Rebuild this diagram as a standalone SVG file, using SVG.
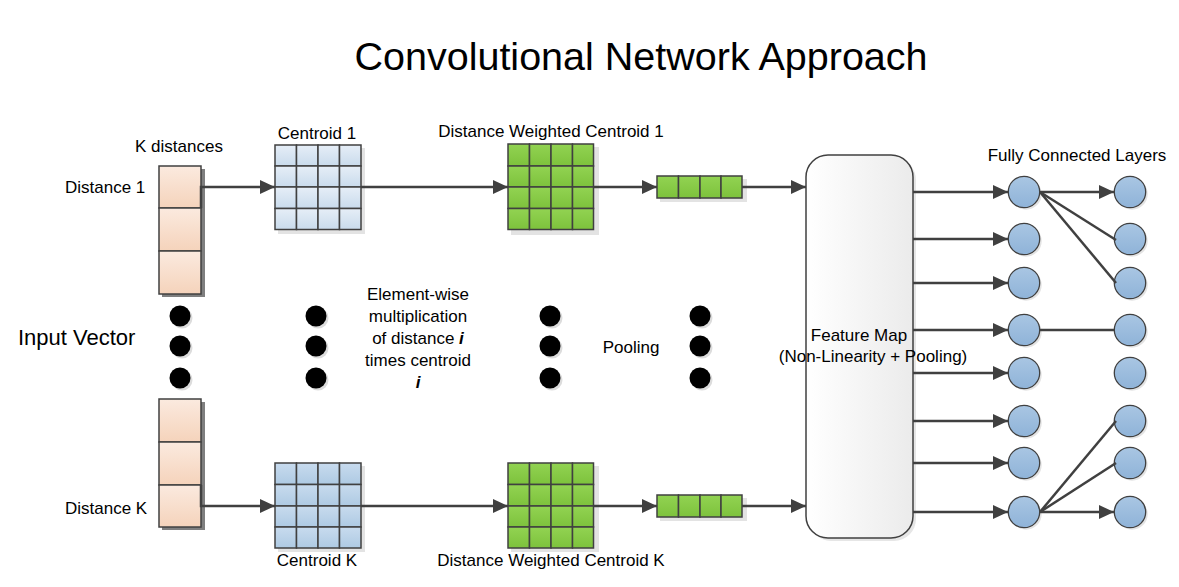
<svg xmlns="http://www.w3.org/2000/svg" width="1179" height="587" viewBox="0 0 1179 587">
<style>
text{font-family:"Liberation Sans",Arial,sans-serif;fill:#000}
.lbl{font-size:17px}
.cell{stroke:#404040;stroke-width:1.5}
.peach{fill:url(#gPeach)}
.blue1{fill:url(#gBlue1)}
.blue2{fill:url(#gBlue2)}
.green{fill:url(#gGreen)}
.shadow{fill:#e3e3e3}
.dshadow{fill:#7f7f7f}
.conn{fill:none;stroke:#404040;stroke-width:2.5}
.arr{marker-end:url(#ah)}
.dot{fill:#000}
.neuron{fill:url(#gNeuron);stroke:#404040;stroke-width:1.3}
</style>
<defs>
<linearGradient id="gPeach" x1="0" y1="0" x2="0" y2="1"><stop offset="0" stop-color="#fbeadf"/><stop offset="1" stop-color="#f5d3bb"/></linearGradient>
<linearGradient id="gBlue1" x1="0" y1="0" x2="0" y2="1"><stop offset="0" stop-color="#e6eef7"/><stop offset="1" stop-color="#c9dbec"/></linearGradient>
<linearGradient id="gBlue2" x1="0" y1="0" x2="0" y2="1"><stop offset="0" stop-color="#c8dbee"/><stop offset="1" stop-color="#aecae3"/></linearGradient>
<linearGradient id="gGreen" x1="0" y1="0" x2="0" y2="1"><stop offset="0" stop-color="#92d352"/><stop offset="1" stop-color="#7dc23c"/></linearGradient>
<linearGradient id="gFM" x1="0" y1="0" x2="1" y2="0"><stop offset="0" stop-color="#ffffff"/><stop offset="1" stop-color="#ebebeb"/></linearGradient>
<linearGradient id="gNeuron" x1="0" y1="0" x2="0" y2="1"><stop offset="0" stop-color="#a9c6e3"/><stop offset="1" stop-color="#8fb3d8"/></linearGradient>
<marker id="ah" markerUnits="userSpaceOnUse" markerWidth="16" markerHeight="14" refX="15" refY="7" orient="auto"><path d="M0,0 L15,7 L0,14 Z" fill="#404040"/></marker>
</defs>
<rect width="1179" height="587" fill="#fff"/>

<text x="641" y="70" text-anchor="middle" style="font-size:39.5px">Convolutional Network Approach</text>

<g id="labels" class="lbl">
<text x="179" y="152" text-anchor="middle">K distances</text>
<text x="65" y="193">Distance 1</text>
<text x="65" y="514">Distance K</text>
<text x="18" y="345" style="font-size:22px">Input Vector</text>
<text x="317" y="139" text-anchor="middle">Centroid 1</text>
<text x="317" y="566" text-anchor="middle">Centroid K</text>
<text x="551" y="137" text-anchor="middle">Distance Weighted Centroid 1</text>
<text x="551" y="566" text-anchor="middle">Distance Weighted Centroid K</text>
<text x="1077" y="161" text-anchor="middle">Fully Connected Layers</text>
<text x="631" y="353" text-anchor="middle">Pooling</text>
<text x="418" y="300" text-anchor="middle">Element-wise</text>
<text x="418" y="322" text-anchor="middle">multiplication</text>
<text x="418" y="344" text-anchor="middle">of distance <tspan font-weight="bold" font-style="italic">i</tspan></text>
<text x="418" y="366" text-anchor="middle">times centroid</text>
<text x="418" y="388" text-anchor="middle" font-weight="bold" font-style="italic">i</text>
</g>

<g id="input-top">
<rect class="dshadow" x="162" y="169" width="43" height="128"/>
<rect class="cell peach" x="159" y="166" width="42" height="42"/>
<rect class="cell peach" x="159" y="208" width="42" height="43"/>
<rect class="cell peach" x="159" y="251" width="42" height="43"/>
</g>
<g id="input-bottom">
<rect class="dshadow" x="162" y="402" width="43" height="128"/>
<rect class="cell peach" x="159" y="399" width="42" height="43"/>
<rect class="cell peach" x="159" y="442" width="42" height="43"/>
<rect class="cell peach" x="159" y="485" width="42" height="42"/>
</g>

<g id="centroid-1">
<rect class="shadow" x="278" y="148" width="87" height="86"/>
<rect class="cell blue1" x="275" y="145" width="21.5" height="21"/><rect class="cell blue1" x="296.5" y="145" width="21.5" height="21"/><rect class="cell blue1" x="318" y="145" width="21.5" height="21"/><rect class="cell blue1" x="339.5" y="145" width="21.5" height="21"/>
<rect class="cell blue1" x="275" y="166" width="21.5" height="21"/><rect class="cell blue1" x="296.5" y="166" width="21.5" height="21"/><rect class="cell blue1" x="318" y="166" width="21.5" height="21"/><rect class="cell blue1" x="339.5" y="166" width="21.5" height="21"/>
<rect class="cell blue1" x="275" y="187" width="21.5" height="21.5"/><rect class="cell blue1" x="296.5" y="187" width="21.5" height="21.5"/><rect class="cell blue1" x="318" y="187" width="21.5" height="21.5"/><rect class="cell blue1" x="339.5" y="187" width="21.5" height="21.5"/>
<rect class="cell blue1" x="275" y="208.5" width="21.5" height="21"/><rect class="cell blue1" x="296.5" y="208.5" width="21.5" height="21"/><rect class="cell blue1" x="318" y="208.5" width="21.5" height="21"/><rect class="cell blue1" x="339.5" y="208.5" width="21.5" height="21"/>
</g>
<g id="centroid-k">
<rect class="shadow" x="278" y="466" width="87" height="86"/>
<rect class="cell blue2" x="275" y="463" width="21.5" height="21.5"/><rect class="cell blue2" x="296.5" y="463" width="21.5" height="21.5"/><rect class="cell blue2" x="318" y="463" width="21.5" height="21.5"/><rect class="cell blue2" x="339.5" y="463" width="21.5" height="21.5"/>
<rect class="cell blue2" x="275" y="484.5" width="21.5" height="21.5"/><rect class="cell blue2" x="296.5" y="484.5" width="21.5" height="21.5"/><rect class="cell blue2" x="318" y="484.5" width="21.5" height="21.5"/><rect class="cell blue2" x="339.5" y="484.5" width="21.5" height="21.5"/>
<rect class="cell blue2" x="275" y="506" width="21.5" height="21"/><rect class="cell blue2" x="296.5" y="506" width="21.5" height="21"/><rect class="cell blue2" x="318" y="506" width="21.5" height="21"/><rect class="cell blue2" x="339.5" y="506" width="21.5" height="21"/>
<rect class="cell blue2" x="275" y="527" width="21.5" height="21"/><rect class="cell blue2" x="296.5" y="527" width="21.5" height="21"/><rect class="cell blue2" x="318" y="527" width="21.5" height="21"/><rect class="cell blue2" x="339.5" y="527" width="21.5" height="21"/>
</g>

<g id="weighted-1">
<rect class="shadow" x="511" y="147" width="88" height="88"/>
<rect class="cell green" x="508" y="144" width="21.5" height="22"/><rect class="cell green" x="529.5" y="144" width="21.5" height="22"/><rect class="cell green" x="551" y="144" width="21.5" height="22"/><rect class="cell green" x="572.5" y="144" width="21" height="22"/>
<rect class="cell green" x="508" y="166" width="21.5" height="21"/><rect class="cell green" x="529.5" y="166" width="21.5" height="21"/><rect class="cell green" x="551" y="166" width="21.5" height="21"/><rect class="cell green" x="572.5" y="166" width="21" height="21"/>
<rect class="cell green" x="508" y="187" width="21.5" height="21.5"/><rect class="cell green" x="529.5" y="187" width="21.5" height="21.5"/><rect class="cell green" x="551" y="187" width="21.5" height="21.5"/><rect class="cell green" x="572.5" y="187" width="21" height="21.5"/>
<rect class="cell green" x="508" y="208.5" width="21.5" height="21"/><rect class="cell green" x="529.5" y="208.5" width="21.5" height="21"/><rect class="cell green" x="551" y="208.5" width="21.5" height="21"/><rect class="cell green" x="572.5" y="208.5" width="21" height="21"/>
</g>
<g id="weighted-k">
<rect class="shadow" x="511" y="466" width="88" height="86"/>
<rect class="cell green" x="508" y="463" width="21.5" height="21.5"/><rect class="cell green" x="529.5" y="463" width="21.5" height="21.5"/><rect class="cell green" x="551" y="463" width="21.5" height="21.5"/><rect class="cell green" x="572.5" y="463" width="21" height="21.5"/>
<rect class="cell green" x="508" y="484.5" width="21.5" height="21.5"/><rect class="cell green" x="529.5" y="484.5" width="21.5" height="21.5"/><rect class="cell green" x="551" y="484.5" width="21.5" height="21.5"/><rect class="cell green" x="572.5" y="484.5" width="21" height="21.5"/>
<rect class="cell green" x="508" y="506" width="21.5" height="21"/><rect class="cell green" x="529.5" y="506" width="21.5" height="21"/><rect class="cell green" x="551" y="506" width="21.5" height="21"/><rect class="cell green" x="572.5" y="506" width="21" height="21"/>
<rect class="cell green" x="508" y="527" width="21.5" height="21"/><rect class="cell green" x="529.5" y="527" width="21.5" height="21"/><rect class="cell green" x="551" y="527" width="21.5" height="21"/><rect class="cell green" x="572.5" y="527" width="21" height="21"/>
</g>

<g id="pooled-1">
<rect class="shadow" x="660" y="179" width="87" height="23"/>
<rect class="cell green" x="657" y="176" width="21.5" height="22"/><rect class="cell green" x="678.5" y="176" width="21.5" height="22"/><rect class="cell green" x="700" y="176" width="21" height="22"/><rect class="cell green" x="721" y="176" width="21" height="22"/>
</g>
<g id="pooled-k">
<rect class="shadow" x="660" y="498" width="87" height="23"/>
<rect class="cell green" x="657" y="495" width="21.5" height="22"/><rect class="cell green" x="678.5" y="495" width="21.5" height="22"/><rect class="cell green" x="700" y="495" width="21" height="22"/><rect class="cell green" x="721" y="495" width="21" height="22"/>
</g>

<g id="feature-map">
<rect x="809" y="158" width="107" height="383" rx="22" fill="#e6e6e6"/>
<rect x="806" y="155" width="107" height="383" rx="22" fill="url(#gFM)" stroke="#404040" stroke-width="1.5"/>
<text class="lbl" x="859" y="341" text-anchor="middle">Feature Map</text>
<text class="lbl" x="873" y="362" text-anchor="middle">(Non-Linearity + Pooling)</text>
</g>

<g id="dots">
<g fill="#dcdcdc">
<circle cx="182" cy="318" r="10.5"/><circle cx="182" cy="348" r="10.5"/><circle cx="182" cy="380" r="10.5"/>
<circle cx="318" cy="318" r="10.5"/><circle cx="318" cy="348" r="10.5"/><circle cx="318" cy="380" r="10.5"/>
<circle cx="552" cy="318" r="10.5"/><circle cx="552" cy="348" r="10.5"/><circle cx="552" cy="380" r="10.5"/>
<circle cx="702" cy="318" r="10.5"/><circle cx="702" cy="348" r="10.5"/><circle cx="702" cy="380" r="10.5"/>
</g>
<g class="dot">
<circle cx="180" cy="316" r="10.5"/><circle cx="180" cy="346" r="10.5"/><circle cx="180" cy="378" r="10.5"/>
<circle cx="316" cy="316" r="10.5"/><circle cx="316" cy="346" r="10.5"/><circle cx="316" cy="378" r="10.5"/>
<circle cx="550" cy="316" r="10.5"/><circle cx="550" cy="346" r="10.5"/><circle cx="550" cy="378" r="10.5"/>
<circle cx="700" cy="316" r="10.5"/><circle cx="700" cy="346" r="10.5"/><circle cx="700" cy="378" r="10.5"/>
</g>
</g>

<g id="neurons">
<g fill="#e3e3e3">
<circle cx="1026" cy="194" r="15.7"/><circle cx="1026" cy="241" r="15.7"/><circle cx="1026" cy="285" r="15.7"/><circle cx="1026" cy="332" r="15.7"/><circle cx="1026" cy="375" r="15.7"/><circle cx="1026" cy="423" r="15.7"/><circle cx="1026" cy="465" r="15.7"/><circle cx="1026" cy="514" r="15.7"/>
<circle cx="1132" cy="194" r="15.7"/><circle cx="1132" cy="241" r="15.7"/><circle cx="1132" cy="285" r="15.7"/><circle cx="1132" cy="332" r="15.7"/><circle cx="1132" cy="375" r="15.7"/><circle cx="1132" cy="423" r="15.7"/><circle cx="1132" cy="465" r="15.7"/><circle cx="1132" cy="514" r="15.7"/>
</g>
<circle class="neuron" cx="1024" cy="192" r="15.7"/><circle class="neuron" cx="1024" cy="239" r="15.7"/><circle class="neuron" cx="1024" cy="283" r="15.7"/><circle class="neuron" cx="1024" cy="330" r="15.7"/><circle class="neuron" cx="1024" cy="373" r="15.7"/><circle class="neuron" cx="1024" cy="421" r="15.7"/><circle class="neuron" cx="1024" cy="463" r="15.7"/><circle class="neuron" cx="1024" cy="512" r="15.7"/>
<circle class="neuron" cx="1130" cy="192" r="15.7"/><circle class="neuron" cx="1130" cy="239" r="15.7"/><circle class="neuron" cx="1130" cy="283" r="15.7"/><circle class="neuron" cx="1130" cy="330" r="15.7"/><circle class="neuron" cx="1130" cy="373" r="15.7"/><circle class="neuron" cx="1130" cy="421" r="15.7"/><circle class="neuron" cx="1130" cy="463" r="15.7"/><circle class="neuron" cx="1130" cy="512" r="15.7"/>
</g>

<g id="connectors">
<path class="conn arr" d="M201,208 V187 H275"/>
<path class="conn arr" d="M201,485 V506 H275"/>
<path class="conn arr" d="M361,187 H508"/>
<path class="conn arr" d="M361,506 H508"/>
<path class="conn arr" d="M594,187 H657"/>
<path class="conn arr" d="M594,506 H657"/>
<path class="conn arr" d="M742,187 H806"/>
<path class="conn arr" d="M742,506 H806"/>
<path class="conn arr" d="M913,192 H1008"/>
<path class="conn arr" d="M913,239 H1008"/>
<path class="conn arr" d="M913,283 H1008"/>
<path class="conn arr" d="M913,330 H1008"/>
<path class="conn arr" d="M913,373 H1008"/>
<path class="conn arr" d="M913,421 H1008"/>
<path class="conn arr" d="M913,463 H1008"/>
<path class="conn arr" d="M913,512 H1008"/>
<path class="conn arr" d="M1040,192 H1114"/>
<path class="conn" d="M1040,192 L1116,240"/>
<path class="conn" d="M1040,192 L1116,283"/>
<path class="conn" d="M1040,330 H1115"/>
<path class="conn" d="M1040,512 L1116,421"/>
<path class="conn" d="M1040,512 L1116,463"/>
<path class="conn arr" d="M1040,512 H1114"/>
</g>
</svg>
